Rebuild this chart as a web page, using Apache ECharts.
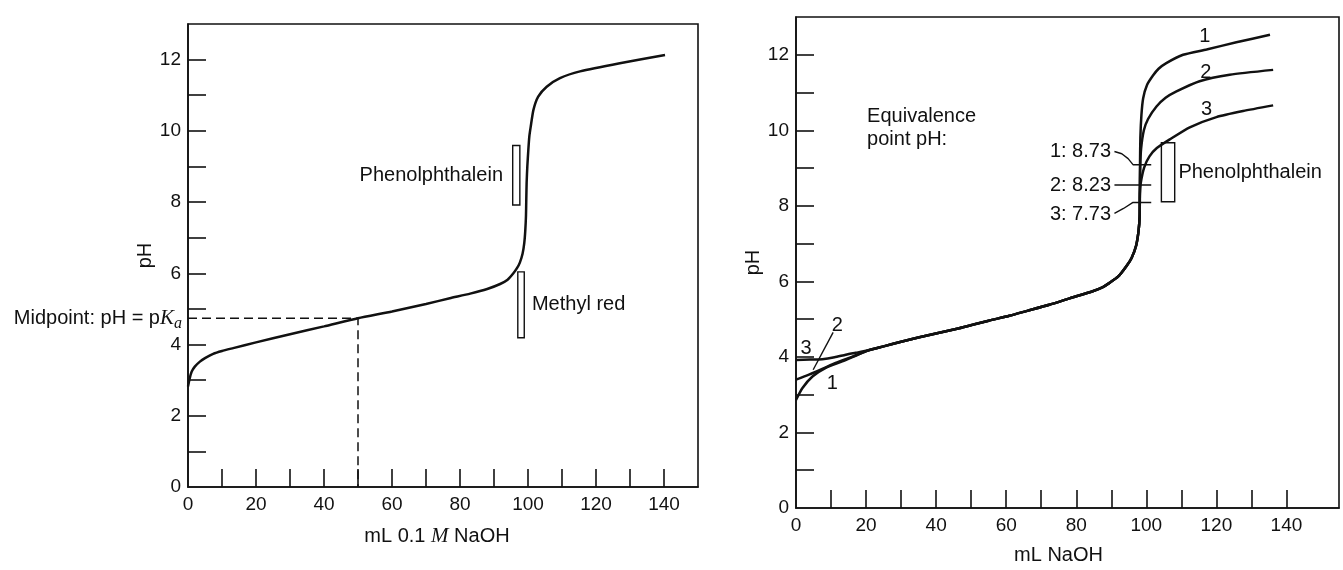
<!DOCTYPE html>
<html>
<head>
<meta charset="utf-8">
<title>Titration curves</title>
<script src="https://cdn.jsdelivr.net/npm/echarts@6/dist/echarts.min.js"></script>
<style>
  html, body { margin: 0; padding: 0; background: #fff; }
  #chart { width: 1343px; height: 570px; }
</style>
</head>
<body>
<div id="chart"></div>
<script>
"use strict";
/* Left: one weak-acid titration curve, with indicator ranges and the
   midpoint marked. Right: the same titration at three concentrations. */

// ---------- axes ----------
const xTicks = [10, 20, 30, 40, 50, 60, 70, 80, 90, 100, 110, 120, 130, 140];
const xLabels = [0, 20, 40, 60, 80, 100, 120, 140];
const yTicks = [1, 2, 3, 4, 5, 6, 7, 8, 9, 10, 11, 12];
const yLabels = [0, 2, 4, 6, 8, 10, 12];

// ---------- left panel data (mL NaOH, pH) ----------
const leftCurve = [
  [0, 2.82], [0.5, 3.05], [1.1, 3.24], [2, 3.38], [3.5, 3.52], [5, 3.62],
  [7.4, 3.74], [10, 3.82], [13.3, 3.9], [20, 4.06], [30, 4.29], [40, 4.51],
  [50, 4.74], [60, 4.93], [70, 5.14], [77, 5.3], [83, 5.43], [88, 5.56],
  [91.8, 5.7], [94, 5.82], [95.7, 6.0], [96.8, 6.15], [97.6, 6.3], [98.4, 6.55],
  [98.9, 6.85], [99.2, 7.2], [99.4, 7.6], [99.5, 8.1], [99.6, 8.55], [99.8, 9.0],
  [100.1, 9.47], [100.4, 9.85], [100.8, 10.12], [101.6, 10.59], [103, 10.96],
  [105.5, 11.24], [109.4, 11.48], [115.3, 11.67], [127, 11.9], [140.3, 12.13]
];
const midpointGuide = [[0, 4.74], [50, 4.74], [50, 0]];
const phenolLeft = [[95.5, 7.92], [97.6, 9.59]];
const methylRed = [[97, 4.19], [98.9, 6.04]];

// ---------- right panel data ----------
const start1 = [[0, 2.86], [1.8, 3.17], [4.7, 3.48], [8.5, 3.71], [13.2, 3.88], [17, 4.03]];
const start2 = [[0, 3.4], [3.7, 3.53], [7.5, 3.68], [11.3, 3.84], [16.1, 4.01]];
const start3 = [[0, 3.92], [4, 3.93], [7.5, 3.94], [11, 3.99], [14.2, 4.06], [17, 4.11]];
const shared = [
  [20.5, 4.17], [25, 4.28], [30, 4.4], [35.2, 4.52], [40.9, 4.64], [46.6, 4.76],
  [50.4, 4.85], [55, 4.96], [60.9, 5.09], [66, 5.22], [72.3, 5.38], [78.1, 5.55],
  [84.7, 5.74], [87.6, 5.85], [89.5, 5.96], [92, 6.13], [94.3, 6.4], [95.8, 6.62],
  [97.1, 6.95], [97.8, 7.35], [98.1, 7.73]
];
const end1 = [
  [98.15, 8.3], [98.2, 9.1], [98.3, 9.8], [98.6, 10.4], [99.1, 10.85], [100.2, 11.2],
  [101.9, 11.45], [103.5, 11.63], [105.7, 11.78], [110.5, 12.0], [117.2, 12.14],
  [125.7, 12.33], [135.3, 12.53]
];
const end2 = [
  [98.15, 8.3], [98.25, 9.0], [98.5, 9.5], [99.3, 10.0], [100.5, 10.3], [102.9, 10.63],
  [105.5, 10.86], [108.6, 11.03], [115.2, 11.3], [123.8, 11.47], [136.2, 11.6]
];
const end3 = [
  [98.15, 8.3], [98.4, 8.6], [99.4, 9.02], [100.9, 9.31], [103, 9.53], [106.7, 9.76],
  [112.4, 10.08], [120, 10.35], [127.6, 10.51], [136.2, 10.66]
];
const phenolRight = [[104.3, 8.11], [108.1, 9.67]];
const eqLeader1 = [[90.9, 9.44], [93, 9.38], [94.8, 9.25], [96.2, 9.09], [101.4, 9.09]];
const eqLeader2 = [[90.9, 8.55], [101.4, 8.55]];
const eqLeader3 = [[90.9, 7.8], [93.5, 7.93], [96.2, 8.09], [101.4, 8.09]];
const curve2Leader = [[10.6, 4.65], [4.9, 3.66]];
const eqTexts = ["1: 8.73", "2: 8.23", "3: 7.73"];
const eqTextAt = [[90.5, 9.43], [90.5, 8.55], [90.5, 7.76]];
const curveTags = ["1", "2", "3", "3", "2", "1"];
const curveTagAt = [[116.7, 12.48], [117, 11.53], [117.2, 10.56], [2.9, 4.23], [11.8, 4.82], [10.4, 3.3]];

// ---------- shared styling ----------
const INK = "#111";
const SANS = "Liberation Sans";
const SERIF = "Liberation Serif";

function xAxisDef(gi, max, name, nameGap, pad) {
  return {
    type: "value", gridIndex: gi, min: 0, max, interval: 10,
    name, nameLocation: "middle", nameGap,
    nameTextStyle: {
      fontSize: 20, color: INK, fontFamily: SANS, padding: pad,
      rich: {
        a: {fontSize: 20, color: INK, fontFamily: SANS},
        m: {fontSize: 21, color: INK, fontFamily: SERIF, fontStyle: "italic"},
      },
    },
    axisLine: {show: true, lineStyle: {color: INK, width: 1.6}},
    axisTick: {show: true, inside: true, length: 18, customValues: xTicks,
      lineStyle: {color: INK, width: 1.6}},
    axisLabel: {fontSize: 19, color: INK, fontFamily: SANS, margin: 8, customValues: xLabels},
    splitLine: {show: false},
  };
}
function yAxisDef(gi, nameGap) {
  return {
    type: "value", gridIndex: gi, min: 0, max: 13, interval: 1,
    name: "pH", nameLocation: "middle", nameGap,
    nameTextStyle: {fontSize: 20, color: INK, fontFamily: SANS},
    axisLine: {show: true, lineStyle: {color: INK, width: 1.6}},
    axisTick: {show: true, inside: true, length: 18, customValues: yTicks,
      lineStyle: {color: INK, width: 1.6}},
    axisLabel: {fontSize: 19, color: INK, fontFamily: SANS, margin: 7, customValues: yLabels},
    splitLine: {show: false},
  };
}
const curveLine = (gi, data, extra) => Object.assign({
  type: "line", xAxisIndex: gi, yAxisIndex: gi, data,
  showSymbol: false, smooth: 0.2, silent: true,
  lineStyle: {color: INK, width: 2.5},
}, extra || {});
const thinLine = (gi, data) => ({
  type: "line", xAxisIndex: gi, yAxisIndex: gi, data,
  showSymbol: false, silent: true, lineStyle: {color: INK, width: 1.4},
});
const boxStyle = {color: "rgba(255,255,255,0)", borderColor: INK, borderWidth: 1.4};
const textStyle = {fontSize: 20, color: INK, fontFamily: SANS};

const option = {
  animation: false,
  backgroundColor: "#fff",
  grid: [
    {left: 188, top: 24, width: 510, height: 463, show: true, borderColor: INK, borderWidth: 1.6},
    {left: 796, top: 17, width: 543, height: 491, show: true, borderColor: INK, borderWidth: 1.6},
  ],
  xAxis: [
    xAxisDef(0, 150, "{a|mL 0.1 }{m|M}{a| NaOH}", 39, [0, 12, 0, 0]),
    xAxisDef(1, 155, "mL NaOH", 37, [0, 18, 0, 0]),
  ],
  yAxis: [yAxisDef(0, 33), yAxisDef(1, 30)],
  series: [
    // ---- left ----
    curveLine(0, leftCurve, {
      markArea: {
        silent: true, itemStyle: boxStyle,
        label: Object.assign({show: true}, textStyle),
        data: [
          [{name: "Phenolphthalein", coord: phenolLeft[0],
            label: {position: "left", distance: 9}}, {coord: phenolLeft[1]}],
          [{name: "Methyl red", coord: methylRed[0],
            label: {position: "right", distance: 7}}, {coord: methylRed[1]}],
        ],
      },
    }),
    {
      type: "line", xAxisIndex: 0, yAxisIndex: 0, data: midpointGuide,
      showSymbol: false, silent: true,
      lineStyle: {color: INK, width: 1.5, type: [9, 5]},
    },
    {
      type: "scatter", xAxisIndex: 0, yAxisIndex: 0, symbolSize: 0, clip: false, silent: true,
      itemStyle: {opacity: 1},
      data: [{value: midpointGuide[0]}],
      label: {
        show: true, position: "left", distance: 6,
        formatter: "{t|Midpoint: pH = p}{k|K}{s|a}",
        rich: {
          t: {fontSize: 20, color: INK, fontFamily: SANS},
          k: {fontSize: 21, color: INK, fontFamily: SERIF, fontStyle: "italic"},
          s: {fontSize: 16, color: INK, fontFamily: SERIF, fontStyle: "italic", padding: [12, 0, 0, 0]},
        },
      },
    },
    // ---- right ----
    curveLine(1, start1.concat(shared, end1)),
    curveLine(1, start2.concat(shared, end2)),
    curveLine(1, start3.concat(shared, end3), {
      markArea: {
        silent: true, itemStyle: boxStyle,
        label: Object.assign({show: true, position: "right", distance: 3}, textStyle),
        data: [[{name: "Phenolphthalein", coord: phenolRight[0]}, {coord: phenolRight[1]}]],
      },
    }),
    thinLine(1, eqLeader1),
    thinLine(1, eqLeader2),
    thinLine(1, eqLeader3),
    thinLine(1, curve2Leader),
    {
      type: "scatter", xAxisIndex: 1, yAxisIndex: 1, symbolSize: 0, clip: false, silent: true,
      itemStyle: {opacity: 1},
      data: [
        {name: "Equivalence\npoint pH:", value: [20.3, 10.06],
          label: {position: "right", distance: 0, lineHeight: 23}},
      ].concat(
        eqTexts.map((t, i) => ({name: t, value: eqTextAt[i], label: {position: "left", distance: 2}})),
        curveTags.map((t, i) => ({name: t, value: curveTagAt[i], label: {position: "inside"}}))
      ),
      label: Object.assign({show: true, formatter: "{b}"}, textStyle),
    },
  ],
};

const chart = echarts.init(document.getElementById("chart"), null, {renderer: "canvas"});
chart.setOption(option);
</script>
</body>
</html>
